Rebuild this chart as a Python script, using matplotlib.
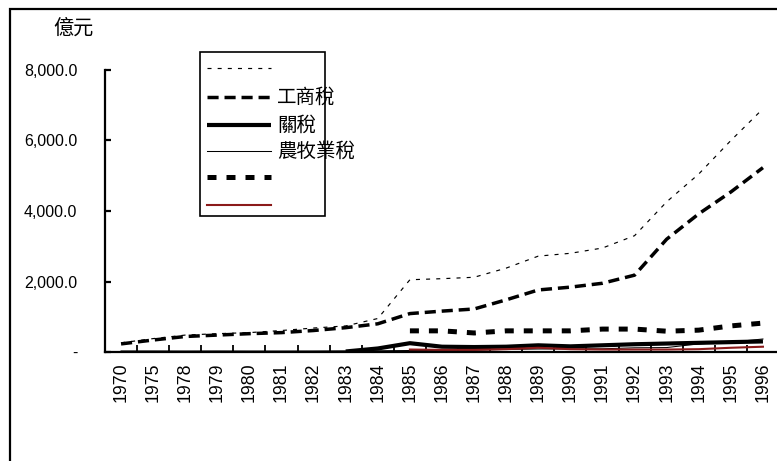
import numpy as np
import matplotlib
matplotlib.use("Agg")
import matplotlib.pyplot as plt
from matplotlib.lines import Line2D
from matplotlib.patches import Rectangle
from matplotlib.ticker import FuncFormatter

nan = np.nan

years = ['1970', '1975', '1978', '1979', '1980', '1981', '1982', '1983',
         '1984', '1985', '1986', '1987', '1988', '1989', '1990', '1991',
         '1992', '1993', '1994', '1995', '1996']

# tax revenue, 100 million yuan
total_tax = [260, 380, 480, 520, 550, 610, 680, 740, 950, 2050, 2080, 2120,
             2380, 2720, 2800, 2950, 3300, 4260, 5050, 6000, 6900]
industry_commerce = [230, 340, 440, 480, 520, 550, 610, 690, 800, 1090, 1160,
                     1220, 1480, 1760, 1840, 1950, 2180, 3200, 3920, 4540, 5230]
customs = [nan, nan, nan, nan, nan, nan, nan, 15, 100, 250, 150, 140, 150,
           190, 160, 190, 220, 240, 260, 280, 300]
agriculture = [30, 30, 28, 30, 28, 28, 29, 33, 35, 42, 45, 51, 74, 85, 88, 91,
               119, 126, 231, 278, 369]
income_tax = [nan, nan, nan, nan, nan, nan, nan, nan, nan, 600, 600, 540, 600,
              600, 600, 650, 650, 590, 620, 740, 820]
other_tax = [nan, nan, nan, nan, nan, nan, nan, nan, nan, 70, 60, 60, 80, 120,
             80, 70, 70, 70, 80, 120, 150]

legend_labels = ['', '工商稅', '關稅', '農牧業稅', '', '']

W, H = 777, 461
fig = plt.figure(figsize=(W / 100, H / 100), dpi=100)


def fx(px):
    return px / W


def fy(py):
    return (H - py) / H


ax = fig.add_axes([fx(105), fy(352), 674 / W, 282 / H])

styles = [
    dict(color='black', lw=0.85, dashes=(3.4, 5.2)),
    dict(color='black', lw=2.5, dashes=(3.2, 1.7)),
    dict(color='black', lw=3.0, solid_capstyle='butt'),
    dict(color='black', lw=0.75),
    dict(color='black', lw=3.6, dashes=(1.8, 2.0)),
    dict(color='#8B1A1A', lw=1.5),
]
series = [total_tax, industry_commerce, customs, agriculture, income_tax, other_tax]

x = np.arange(len(years))
for vals, st in zip(series, styles):
    ax.plot(x, vals, **st)

ax.set_xlim(-0.5, len(years) - 0.5)
ax.set_ylim(0, 8000)

for side in ['top', 'right']:
    ax.spines[side].set_visible(False)
for side in ['left', 'bottom']:
    ax.spines[side].set_linewidth(1.6)

# year labels sit in the middle of each category, tick marks between them
ax.set_xticks(x)
ax.set_xticklabels(years, rotation=90, fontsize=12.8, family='Liberation Sans')
ax.set_xticks(x[:-1] + 0.5, minor=True)
ax.tick_params(axis='x', which='major', length=0, pad=7.5)
ax.tick_params(axis='x', which='minor', direction='in', length=5, width=1.3)

ax.set_yticks([0, 2000, 4000, 6000, 8000])
ax.yaxis.set_major_formatter(FuncFormatter(lambda v, p: '-' if v == 0 else f'{v:,.1f}'))
ax.tick_params(axis='y', direction='in', length=4, width=1.6, pad=20, labelsize=11.5)
for lab in ax.get_yticklabels():
    lab.set_family('Liberation Sans')

# unit label
fig.text(fx(73), fy(28), '億元', fontsize=14.5, family=['Noto Sans CJK TC', 'DejaVu Sans'],
         ha='center', va='center')

# hand-placed legend box
fig.add_artist(Rectangle((fx(200), fy(216)), 125 / W, 164 / H, transform=fig.transFigure,
                         fill=False, lw=1.2, edgecolor='black'))
rows = [68, 97, 125, 151, 177, 205]
for ry, lab, st in zip(rows, legend_labels, styles):
    fig.add_artist(Line2D([fx(207), fx(271)], [fy(ry), fy(ry)], transform=fig.transFigure, **st))
    if lab:
        fig.text(fx(277), fy(ry), lab, fontsize=14,
                 family=['Noto Sans CJK TC', 'DejaVu Sans'], va='center', ha='left')

# outer chart frame
fig.add_artist(Rectangle((fx(10), -0.2), 1.2, fy(9.5) + 0.2, transform=fig.transFigure,
                         fill=False, lw=1.6, edgecolor='black'))

fig.savefig('out.png', dpi=100)
